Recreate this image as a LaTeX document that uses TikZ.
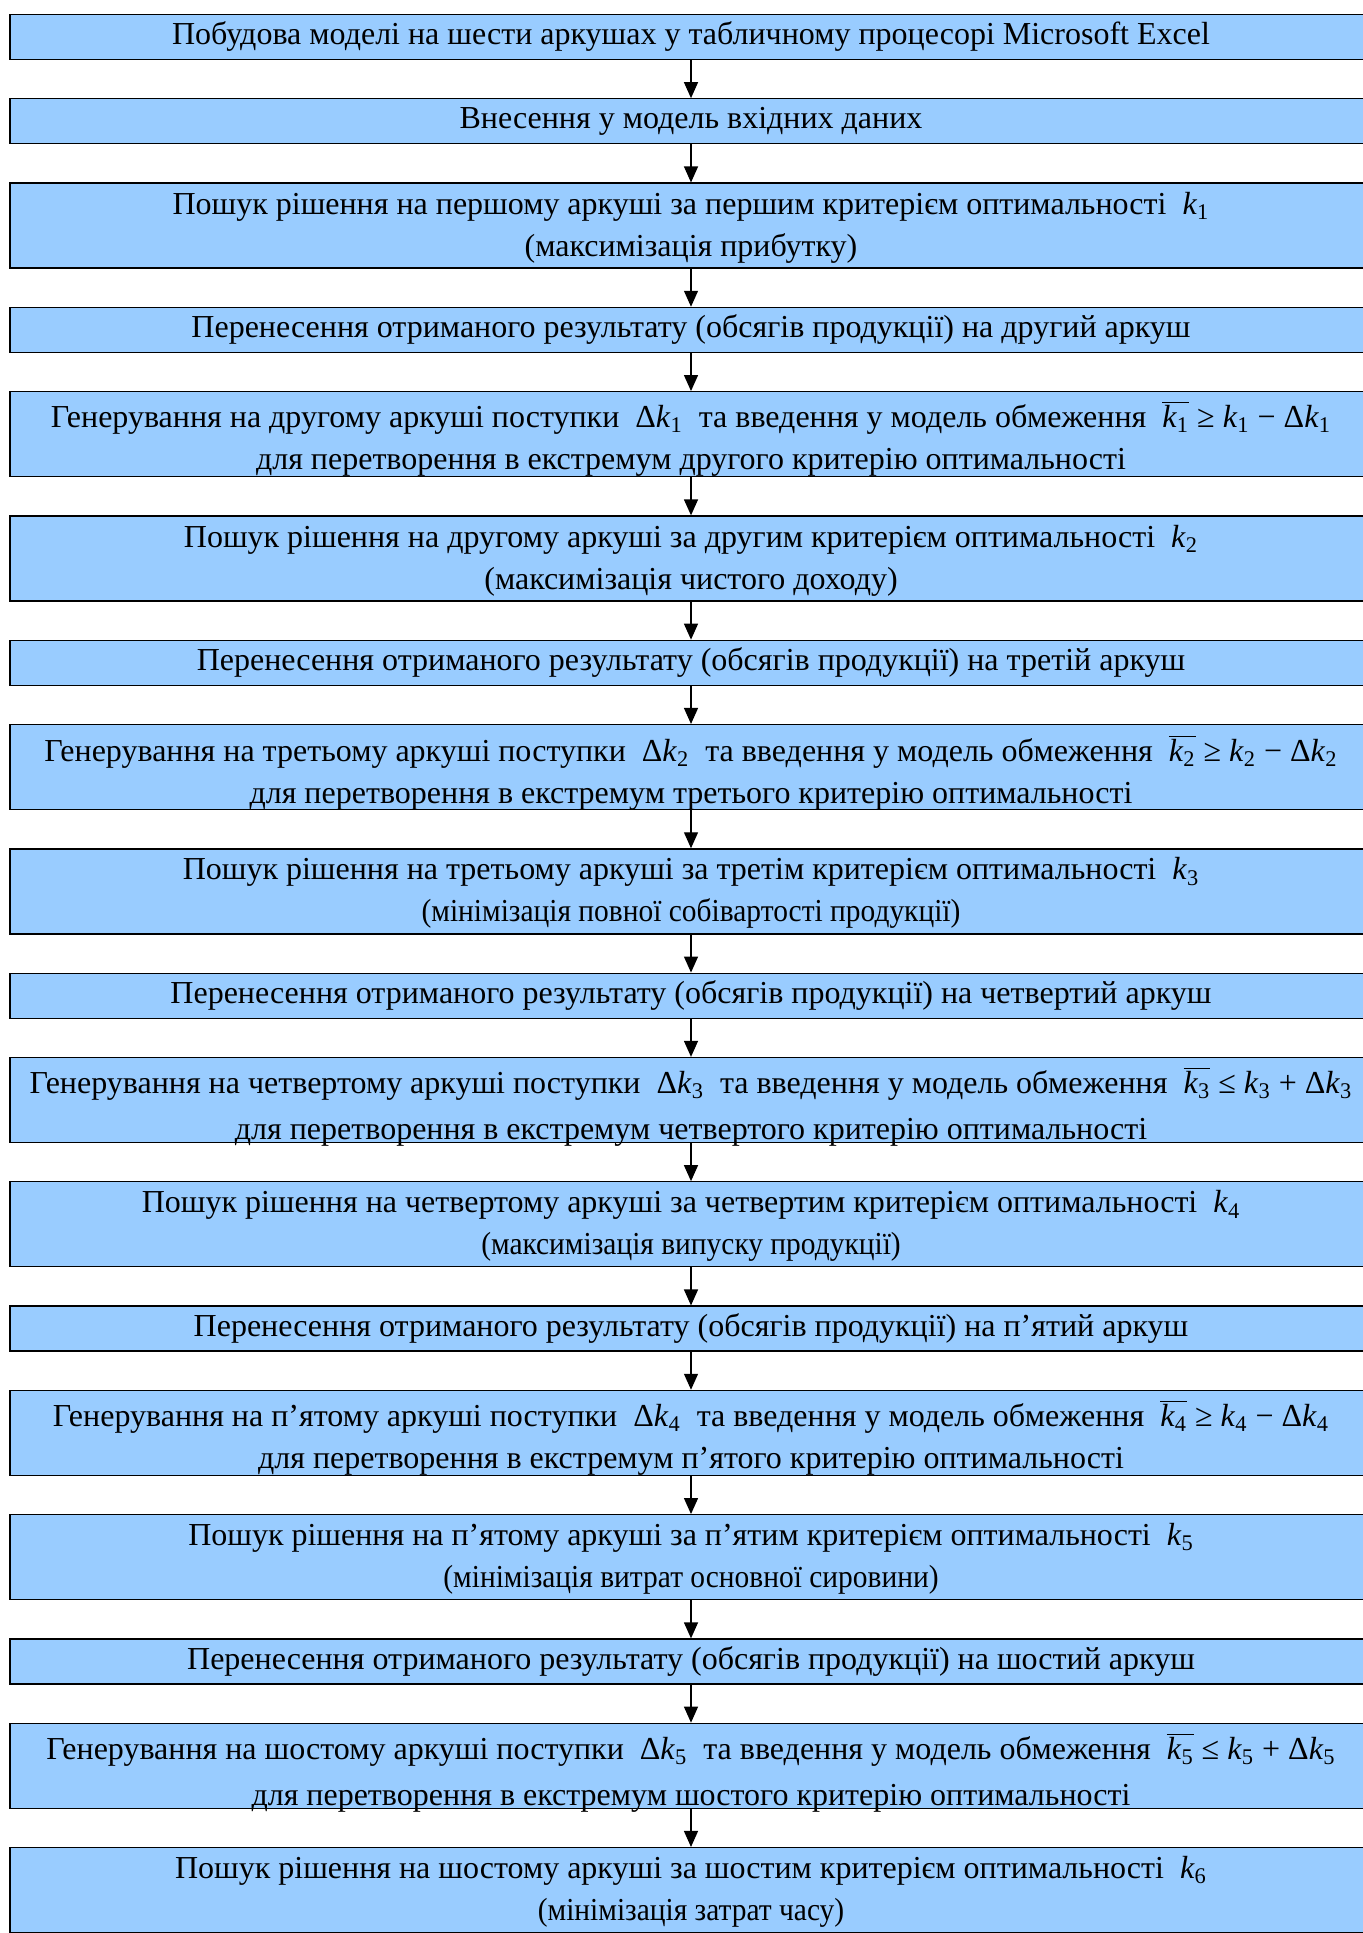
\documentclass[tikz,border=0pt]{standalone}
\usepackage{fontspec}
\usepackage{graphicx}
\setmainfont{Liberation Serif}
\usetikzlibrary{arrows.meta, positioning}
\newlength\upx
\setlength\upx{0.5pt} % one pixel of the picture
\definecolor{boxblue}{RGB}{153,204,255}
\newcommand{\kk}[1]{\textit{k}\textsubscript{#1}}
\newcommand{\dkk}[1]{Δ\kk{#1}}
\newcommand{\kbr}[1]{$\overline{\mbox{\kk{#1}}}$}
\newcommand{\narrow}[1]{\scalebox{0.92}[1]{#1}}
\tikzset{
  ->, % makes the edges directed
  >={Triangle[length=8pt, width=7pt]}, % filled heads
  node distance=38\upx, % gap between two boxes
  every node/.style={font=\fontsize{16pt}{21pt}\selectfont},
}

\begin{document}
\begin{tikzpicture}[line width=1.3\upx,
    box/.style = {draw, fill=boxblue, align=center, inner xsep=0pt,
      inner ysep=0pt, minimum width=1362\upx},
    one/.style = {box, text height=30\upx, text depth=15\upx},
    two/.style = {box, text height={85\upx-#1\upx}, text depth=#1\upx},
    two/.default=12]
    \useasboundingbox (0,0) rectangle (1363\upx,-1933\upx);
    \node[one] (build) at (691\upx,-37\upx) {Побудова моделі на шести
    аркушах у табличному процесорі Microsoft Excel};
    \node[one, below=of build] (input) {Внесення у модель вхідних даних};
    \node[two, below=of input] (search_1) {Пошук рішення на першому
    аркуші за першим критерієм оптимальності~ \kk{1}\\(максимізація
    прибутку)};
    \node[one, below=of search_1] (move_1) {Перенесення отриманого
    результату (обсягів продукції) на другий аркуш};
    \node[two=7, below=of move_1] (gen_1) {Генерування на другому аркуші
    поступки~ \dkk{1} ~та введення у модель обмеження~ \kbr{1} ≥
    \kk{1} − \dkk{1}\\для перетворення в екстремум другого критерію
    оптимальності};
    \node[two, below=of gen_1] (search_2) {Пошук рішення на другому
    аркуші за другим критерієм оптимальності~ \kk{2}\\(максимізація
    чистого доходу)};
    \node[one, below=of search_2] (move_2) {Перенесення отриманого
    результату (обсягів продукції) на третій аркуш};
    \node[two=6, below=of move_2] (gen_2) {Генерування на третьому аркуші
    поступки~ \dkk{2} ~та введення у модель обмеження~ \kbr{2} ≥
    \kk{2} − \dkk{2}\\для перетворення в екстремум третього критерію
    оптимальності};
    \node[two, below=of gen_2] (search_3) {Пошук рішення на третьому
    аркуші за третім критерієм оптимальності~ \kk{3}\\\narrow{(мінімізація
    повної собівартості продукції)}};
    \node[one, below=of search_3] (move_3) {Перенесення отриманого
    результату (обсягів продукції) на четвертий аркуш};
    \node[two=3, below=of move_3] (gen_3) {Генерування на четвертому
    аркуші поступки~ \dkk{3} ~та введення у модель обмеження~ \kbr{3} ≤
    \kk{3} + \dkk{3}\\[2pt]для перетворення в екстремум четвертого
    критерію оптимальності};
    \node[two, below=of gen_3] (search_4) {Пошук рішення на четвертому
    аркуші за четвертим критерієм оптимальності~ \kk{4}\\\narrow{(максимізація
    випуску продукції)}};
    \node[one, below=of search_4] (move_4) {Перенесення отриманого
    результату (обсягів продукції) на п’ятий аркуш};
    \node[two=7, below=of move_4] (gen_4) {Генерування на п’ятому аркуші
    поступки~ \dkk{4} ~та введення у модель обмеження~ \kbr{4} ≥
    \kk{4} − \dkk{4}\\для перетворення в екстремум п’ятого критерію
    оптимальності};
    \node[two, below=of gen_4] (search_5) {Пошук рішення на п’ятому
    аркуші за п’ятим критерієм оптимальності~ \kk{5}\\\narrow{(мінімізація
    витрат основної сировини)}};
    \node[one, below=of search_5] (move_5) {Перенесення отриманого
    результату (обсягів продукції) на шостий аркуш};
    \node[two=3, below=of move_5] (gen_5) {Генерування на шостому аркуші
    поступки~ \dkk{5} ~та введення у модель обмеження~ \kbr{5} ≤
    \kk{5} + \dkk{5}\\[2pt]для перетворення в екстремум шостого критерію
    оптимальності};
    \node[two, below=of gen_5] (search_6) {Пошук рішення на шостому
    аркуші за шостим критерієм оптимальності~ \kk{6}\\\narrow{(мінімізація
    затрат часу)}};

    \draw
    (build) edge (input)
    (input) edge (search_1)
    (search_1) edge (move_1)
    (move_1) edge (gen_1)
    (gen_1) edge (search_2)
    (search_2) edge (move_2)
    (move_2) edge (gen_2)
    (gen_2) edge (search_3)
    (search_3) edge (move_3)
    (move_3) edge (gen_3)
    (gen_3) edge (search_4)
    (search_4) edge (move_4)
    (move_4) edge (gen_4)
    (gen_4) edge (search_5)
    (search_5) edge (move_5)
    (move_5) edge (gen_5)
    (gen_5) edge (search_6)
    ;
  \end{tikzpicture}
\end{document}
